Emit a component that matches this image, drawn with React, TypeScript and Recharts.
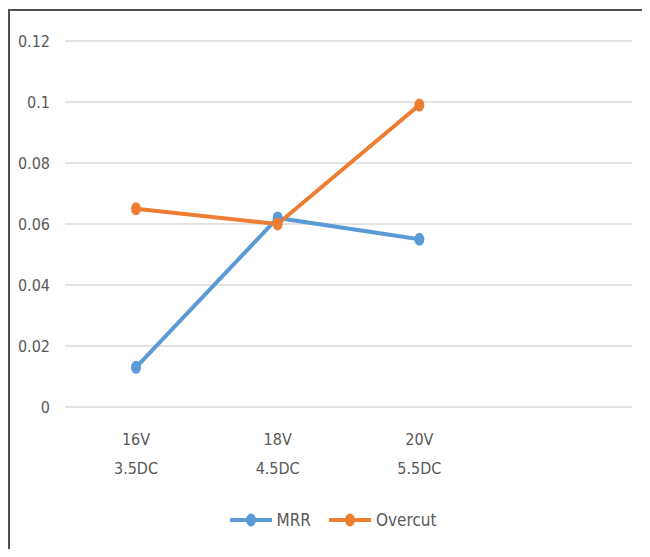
import React from 'react';
import { LineChart, Line, XAxis, YAxis, CartesianGrid } from 'recharts';

// categories: voltage over duty cycle; the last slot is left empty
const categories = ['16V\n3.5DC', '18V\n4.5DC', '20V\n5.5DC', ''];
const mrr = [0.013, 0.062, 0.055, null];
const overcut = [0.065, 0.06, 0.099, null];
const yTicks = [0, 0.02, 0.04, 0.06, 0.08, 0.1, 0.12];

const series = [
  { key: 'mrr', name: 'MRR', color: '#5B9BD5' },
  { key: 'overcut', name: 'Overcut', color: '#ED7D31' },
];

const data = categories.map((c, i) => ({ cat: c, mrr: mrr[i], overcut: overcut[i] }));

const FONT = "'Liberation Sans Narrow', 'DejaVu Sans Condensed', 'Liberation Sans', sans-serif";
const TEXT = '#595959';

const CatTick = (props: any) => {
  const { x, y, payload } = props;
  if (!payload.value) return null;
  const lines = String(payload.value).split('\n');
  return (
    <text x={x} y={y} textAnchor="middle" fill={TEXT} fontSize={16} fontFamily={FONT}>
      {lines.map((l, i) => (
        <tspan key={i} x={x} dy={i === 0 ? 30 : 29}>{l}</tspan>
      ))}
    </text>
  );
};

const makeDot = (color: string) => (props: any) => {
  const { cx, cy, index } = props;
  if (cx == null || cy == null) return <g key={index} />;
  return <ellipse key={index} cx={cx} cy={cy} rx={5} ry={6.5} fill={color} />;
};

const LegendRow = () => (
  <div style={{ position: 'absolute', top: 508, left: 8, width: 650, display: 'flex', justifyContent: 'center', fontFamily: FONT, fontSize: 17, color: TEXT }}>
    {series.map((s) => (
      <div key={s.key} style={{ display: 'flex', alignItems: 'center', margin: '0 9px' }}>
        <svg width={42} height={24}>
          <line x1={1} y1={12} x2={41} y2={12} stroke={s.color} strokeWidth={4} strokeLinecap="round" />
          <ellipse cx={21} cy={12} rx={5} ry={6.5} fill={s.color} />
        </svg>
        <span style={{ marginLeft: 5 }}>{s.name}</span>
      </div>
    ))}
  </div>
);

export default function App() {
  return (
    <div style={{ position: 'relative', width: 650, height: 557, margin: -8, background: '#fff', overflow: 'hidden' }}>
      {/* frame: only the top and left edges show */}
      <div style={{ position: 'absolute', left: 8, top: 9, width: 642, height: 2, background: '#505050' }} />
      <div style={{ position: 'absolute', left: 8, top: 9, width: 2, height: 548, background: '#505050' }} />
      <div style={{ position: 'absolute', left: 0, top: 0 }}>
        <LineChart width={650} height={557} data={data} margin={{ top: 41, right: 18, bottom: 90, left: 0 }}>
          <CartesianGrid vertical={false} stroke="#d9d9d9" strokeWidth={1.5} />
          <XAxis
            dataKey="cat"
            axisLine={false}
            tickLine={false}
            padding={{ left: 71, right: 71 }}
            height={60}
            interval={0}
            tick={<CatTick />}
          />
          <YAxis
            domain={[0, 0.12]}
            ticks={yTicks}
            width={65}
            axisLine={false}
            tickLine={false}
            tickSize={0}
            tickMargin={15}
            tick={{ fill: TEXT, fontSize: 16, fontFamily: FONT }}
          />
          {series.map((s) => (
            <Line
              key={s.key}
              dataKey={s.key}
              name={s.name}
              stroke={s.color}
              strokeWidth={4}
              dot={makeDot(s.color)}
              activeDot={false}
              isAnimationActive={false}
            />
          ))}
        </LineChart>
      </div>
      <LegendRow />
    </div>
  );
}
